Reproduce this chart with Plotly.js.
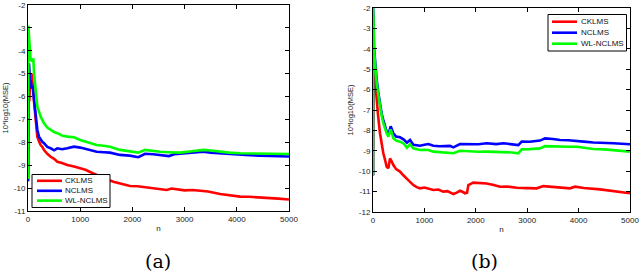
<!DOCTYPE html>
<html>
<head>
<meta charset="utf-8">
<script src="https://cdn.plot.ly/plotly-3.0.1.min.js"></script>
<style>html,body{margin:0;padding:0;background:#fff;}#chart{width:640px;height:274px;}</style>
</head>
<body>
<div id="chart"></div>
<script>
// ---------- data ----------
const seriesNames = ['CKLMS', 'NCLMS', 'WL-NCLMS'];
const seriesColors = ['#ff0000', '#0000ff', '#00ff00'];
const xTicks = [0, 1000, 2000, 3000, 4000, 5000];
const yTicksA = [-11, -10, -9, -8, -7, -6, -5, -4, -3, -2];
const yTicksB = [-12, -11, -10, -9, -8, -7, -6, -5, -4, -3, -2];
const yLabel = '10*log10(MSE)';
const xLabel = 'n';
const panelLabels = ['(a)', '(b)'];

// panel (a)
const aCkX = [0, 8, 15, 25, 35, 45, 55, 70, 85, 100, 115, 130, 147, 179, 210, 243, 275, 307, 370, 434, 500, 562, 650, 753, 881, 1000, 1100, 1252, 1400, 1500, 1635, 1800, 1954, 2100, 2274, 2450, 2657, 2750, 2848, 3000, 3150, 3295, 3450, 3679, 3850, 4062, 4250, 4445, 4600, 4800, 5000];
const aCkY = [-9.7, -7.5, -6.0, -6.2, -5.6, -5.2, -5.1, -5.0, -5.3, -5.7, -6.2, -6.6, -7.17, -7.75, -7.95, -8.12, -8.2, -8.34, -8.5, -8.63, -8.72, -8.85, -8.9, -8.99, -9.06, -9.14, -9.2, -9.36, -9.52, -9.6, -9.72, -9.82, -9.91, -9.92, -9.97, -10.02, -10.08, -10.02, -10.05, -10.1, -10.08, -10.11, -10.15, -10.26, -10.3, -10.37, -10.38, -10.4, -10.42, -10.46, -10.5];
const aNcX = [0, 5, 10, 19, 30, 40, 51, 70, 90, 115, 147, 179, 210, 243, 275, 307, 370, 434, 500, 562, 650, 753, 881, 1000, 1150, 1316, 1450, 1571, 1763, 1950, 2114, 2242, 2400, 2529, 2700, 2800, 2912, 3100, 3359, 3500, 3679, 3850, 4062, 4250, 4445, 4700, 5000];
const aNcY = [-9.7, -6.5, -4.8, -4.55, -5.0, -5.5, -5.28, -5.6, -5.6, -6.15, -6.88, -7.46, -7.75, -7.9, -7.98, -8.04, -8.2, -8.26, -8.35, -8.26, -8.3, -8.26, -8.19, -8.23, -8.3, -8.41, -8.43, -8.45, -8.55, -8.58, -8.65, -8.5, -8.52, -8.55, -8.6, -8.52, -8.5, -8.48, -8.41, -8.45, -8.48, -8.5, -8.55, -8.56, -8.58, -8.6, -8.62];
const aWlX = [0, 3, 8, 20, 35, 51, 83, 102, 115, 147, 179, 243, 307, 370, 434, 500, 562, 650, 753, 881, 1000, 1150, 1316, 1450, 1571, 1763, 1950, 2114, 2242, 2400, 2529, 2700, 2912, 3100, 3359, 3500, 3679, 3850, 4062, 4250, 4445, 4700, 5000];
const aWlY = [-9.6, -4.0, -2.9, -3.4, -4.0, -4.4, -4.45, -4.33, -4.98, -5.86, -6.44, -6.88, -7.17, -7.35, -7.46, -7.55, -7.6, -7.7, -7.75, -7.78, -7.9, -8.0, -8.12, -8.15, -8.19, -8.33, -8.4, -8.45, -8.33, -8.38, -8.41, -8.43, -8.45, -8.4, -8.33, -8.36, -8.41, -8.45, -8.48, -8.48, -8.48, -8.5, -8.51];

// panel (b)
const bCkX = [0, 2, 10, 19, 40, 72, 100, 136, 170, 201, 240, 266, 300, 331, 360, 396, 450, 525, 590, 655, 720, 785, 850, 915, 1000, 1077, 1174, 1270, 1368, 1450, 1563, 1630, 1693, 1750, 1790, 1830, 1855, 1952, 2100, 2212, 2350, 2471, 2600, 2796, 3000, 3185, 3315, 3500, 3700, 3834, 3931, 4100, 4418, 4700, 5000];
const bCkY = [-10.2, -4.5, -4.4, -4.88, -5.6, -6.51, -7.3, -8.14, -8.7, -9.12, -9.5, -9.78, -9.85, -9.37, -9.5, -9.7, -9.9, -10.02, -10.2, -10.35, -10.5, -10.68, -10.78, -10.84, -10.8, -10.84, -10.92, -10.9, -11.0, -10.98, -11.12, -11.05, -10.96, -11.02, -11.08, -11.05, -10.68, -10.56, -10.6, -10.6, -10.68, -10.76, -10.75, -10.81, -10.83, -10.84, -10.73, -10.78, -10.82, -10.84, -10.76, -10.82, -10.89, -10.98, -11.08];
const bX = [0, 2, 10, 19, 40, 72, 100, 136, 170, 201, 240, 266, 300, 344, 396, 450, 525, 600, 660, 700, 720, 785, 850, 915, 1000, 1077, 1174, 1300, 1498, 1563, 1693, 1888, 2050, 2212, 2400, 2537, 2700, 2828, 2893, 3050, 3250, 3347, 3500, 3639, 3800, 3964, 4100, 4288, 4500, 4677, 5000];
const bNcY = [-10.2, -2.0, -2.5, -3.9, -4.6, -5.53, -6.1, -6.75, -7.2, -7.5, -7.85, -8.06, -8.2, -7.8, -8.14, -8.3, -8.34, -8.45, -8.6, -8.5, -8.47, -8.7, -8.72, -8.75, -8.7, -8.67, -8.75, -8.78, -8.76, -8.83, -8.67, -8.67, -8.68, -8.63, -8.67, -8.63, -8.68, -8.72, -8.55, -8.56, -8.5, -8.39, -8.42, -8.47, -8.48, -8.5, -8.55, -8.59, -8.6, -8.63, -8.68];
const bWlY = [-10.2, -2.0, -2.5, -4.06, -4.8, -5.69, -6.2, -6.84, -7.3, -7.65, -8.0, -8.14, -8.3, -7.95, -8.39, -8.5, -8.55, -8.65, -8.85, -8.7, -8.68, -8.88, -8.92, -8.96, -8.95, -8.96, -9.04, -9.06, -9.09, -9.12, -9.0, -9.04, -9.05, -9.04, -9.06, -9.04, -9.08, -9.12, -8.93, -8.92, -8.88, -8.77, -8.79, -8.8, -8.8, -8.8, -8.85, -8.91, -8.93, -8.96, -9.04];

// ---------- build ----------
const W = 640, H = 274;
const px = v => v / W;
const py = v => 1 - v / H;
const LW = 2.6;

function tr(x, y, i, xa, ya) {
  return {x: x, y: y, type: 'scatter', mode: 'lines', name: seriesNames[i],
    xaxis: xa, yaxis: ya, line: {color: seriesColors[i], width: LW}, showlegend: false, hoverinfo: 'skip'};
}
const data = [
  tr(aCkX, aCkY, 0, 'x', 'y'), tr(aNcX, aNcY, 1, 'x', 'y'), tr(aWlX, aWlY, 2, 'x', 'y'),
  tr(bCkX, bCkY, 0, 'x2', 'y2'), tr(bX, bNcY, 1, 'x2', 'y2'), tr(bX, bWlY, 2, 'x2', 'y2')
];

const tickFont = {family: 'Liberation Sans, Arial, sans-serif', size: 8, color: '#222'};
function xax(domain, anchor) {
  return {domain: domain, anchor: anchor, range: [0, 5000], tickvals: xTicks, ticktext: xTicks.map(String),
    showline: true, linecolor: '#000', linewidth: 1, mirror: 'ticks', ticks: 'inside', ticklen: 4, tickcolor: '#000',
    showgrid: false, zeroline: false, tickfont: tickFont,
    title: {text: xLabel, font: {family: 'Liberation Sans, Arial, sans-serif', size: 8, color: '#222'}, standoff: 2}};
}
function yax(domain, anchor, ticks) {
  return {domain: domain, anchor: anchor, range: [ticks[0], ticks[ticks.length - 1]], tickvals: ticks,
    ticktext: ticks.map(v => String(v).replace('\u2212', '-')),
    showline: true, linecolor: '#000', linewidth: 1, mirror: 'ticks', ticks: 'inside', ticklen: 4, tickcolor: '#000',
    showgrid: false, zeroline: false, tickfont: tickFont,
    title: {text: yLabel, font: {family: 'Liberation Sans, Arial, sans-serif', size: 7.5, color: '#222'}, standoff: 4}};
}

const shapes = [];
const annotations = [];
function legend(box, lx0, lx1, rows, tx) {
  shapes.push({type: 'rect', xref: 'paper', yref: 'paper', x0: px(box[0]), x1: px(box[1]), y0: py(box[3]), y1: py(box[2]),
    line: {color: '#000', width: 1}, fillcolor: '#fff', layer: 'above'});
  rows.forEach((r, i) => {
    shapes.push({type: 'line', xref: 'paper', yref: 'paper', x0: px(lx0), x1: px(lx1), y0: py(r), y1: py(r),
      line: {color: seriesColors[i], width: 2.6}, layer: 'above'});
    annotations.push({xref: 'paper', yref: 'paper', x: px(tx), y: py(r), xanchor: 'left', yanchor: 'middle',
      text: seriesNames[i], showarrow: false, font: {family: 'Liberation Sans, Arial, sans-serif', size: 8, color: '#111'}});
  });
}
legend([32, 110, 174.5, 207.5], 37, 62, [180.8, 190.8, 200.6], 63);
legend([548, 626.5, 14.5, 51], 552, 577, [21.7, 32.7, 43.7], 578.5);

annotations.push({xref: 'paper', yref: 'paper', x: px(158), y: py(261), xanchor: 'center', yanchor: 'middle',
  text: panelLabels[0], showarrow: false, font: {family: 'DejaVu Serif, serif', size: 19, color: '#000'}});
annotations.push({xref: 'paper', yref: 'paper', x: px(484), y: py(261), xanchor: 'center', yanchor: 'middle',
  text: panelLabels[1], showarrow: false, font: {family: 'DejaVu Serif, serif', size: 19, color: '#000'}});

const layout = {
  width: W, height: H, margin: {l: 0, r: 0, t: 0, b: 0}, showlegend: false,
  paper_bgcolor: '#fff', plot_bgcolor: '#fff',
  font: {family: 'Liberation Sans, Arial, sans-serif', size: 8, color: '#222'},
  xaxis: xax([px(28), px(289)], 'y'),
  yaxis: yax([py(211), py(5)], 'x', yTicksA),
  xaxis2: xax([px(373), px(630)], 'y2'),
  yaxis2: yax([py(212), py(8)], 'x2', yTicksB),
  shapes: shapes, annotations: annotations
};
Plotly.newPlot('chart', data, layout, {displayModeBar: false, staticPlot: true});
</script>
</body>
</html>
